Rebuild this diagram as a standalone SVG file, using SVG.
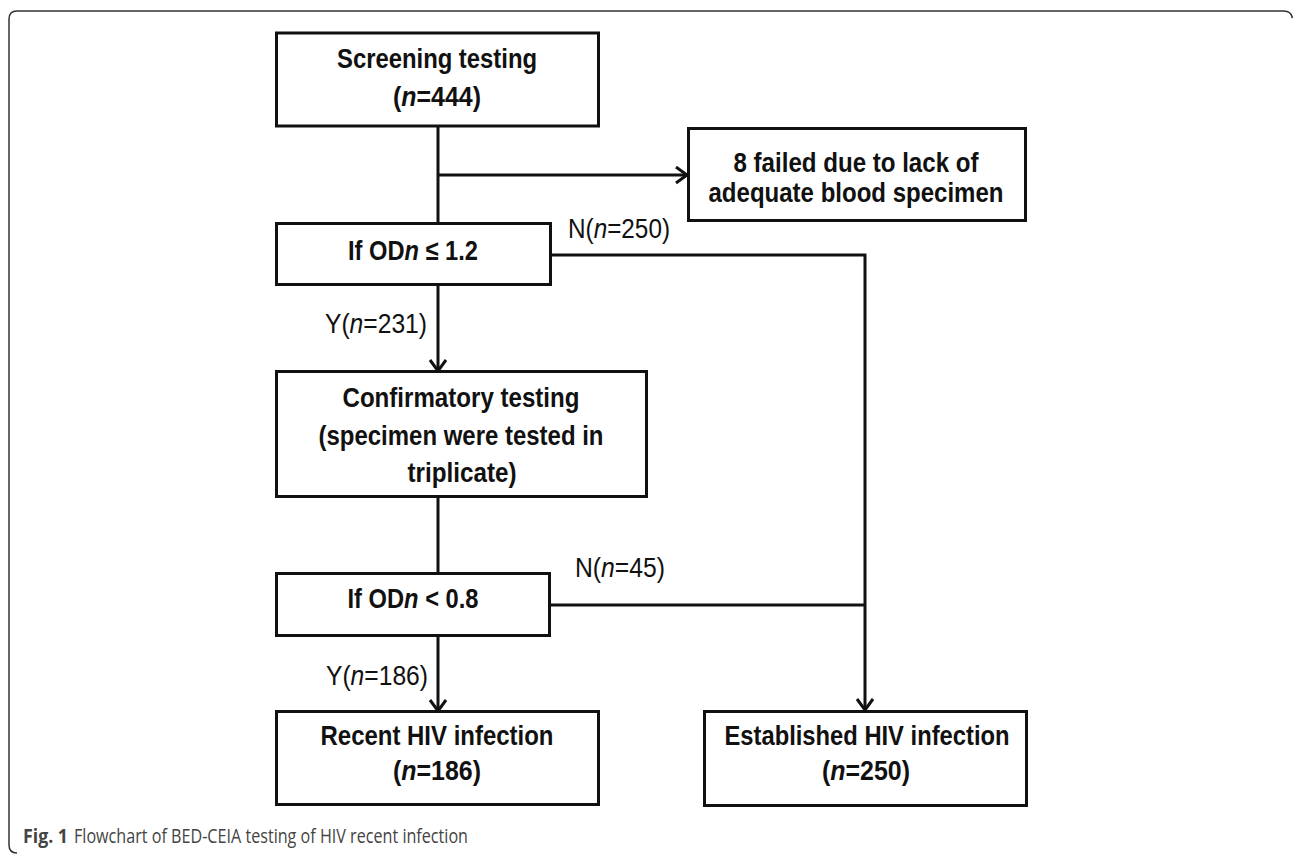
<svg xmlns="http://www.w3.org/2000/svg" width="1293" height="854" viewBox="0 0 1293 854">
<style>
.box{fill:#fff;stroke:#111;stroke-width:3}
.t{font-family:"Liberation Sans",Arial,sans-serif;font-size:28px;font-weight:bold;fill:#111;text-anchor:middle}
.l{font-family:"Liberation Sans",Arial,sans-serif;font-size:28px;fill:#111}
.c{fill:none;stroke:#111;stroke-width:3}
.i{font-style:italic}
.cap{font-family:"Open Sans","Noto Sans",sans-serif;font-size:20px;fill:#444}
</style>
<defs>
<marker id="arr" markerUnits="userSpaceOnUse" markerWidth="16" markerHeight="20" refX="13" refY="9" orient="auto">
<path d="M2,1 L13,9 L2,17" fill="none" stroke="#111" stroke-width="3"/>
</marker>
</defs>
<path d="M17,853 Q9,853 9,845 V19 Q9,11 17,11 H1284 Q1291,11 1292.5,18" fill="none" stroke="#333" stroke-width="1.5"/>
<g id="connectors">
<path class="c" d="M438,127 V223"/>
<path class="c" d="M438,175 H687" marker-end="url(#arr)"/>
<path class="c" d="M438,285 V371" marker-end="url(#arr)"/>
<path class="c" d="M551,255 H865 V710" marker-end="url(#arr)"/>
<path class="c" d="M438,497 V573"/>
<path class="c" d="M550,605 H865"/>
<path class="c" d="M438,636 V711" marker-end="url(#arr)"/>
</g>
<g id="labels">
<text class="l" x="568" y="238" textLength="102" lengthAdjust="spacingAndGlyphs">N(<tspan class="i">n</tspan>=250)</text>
<text class="l" x="325" y="333" textLength="102" lengthAdjust="spacingAndGlyphs">Y(<tspan class="i">n</tspan>=231)</text>
<text class="l" x="575" y="577" textLength="90" lengthAdjust="spacingAndGlyphs">N(<tspan class="i">n</tspan>=45)</text>
<text class="l" x="326" y="685" textLength="102" lengthAdjust="spacingAndGlyphs">Y(<tspan class="i">n</tspan>=186)</text>
</g>
<g id="screening">
<rect class="box" x="276.5" y="33" width="322" height="93"/>
<text class="t" x="437" y="68" textLength="200" lengthAdjust="spacingAndGlyphs">Screening testing</text>
<text class="t" x="437" y="106" textLength="88" lengthAdjust="spacingAndGlyphs">(<tspan class="i">n</tspan>=444)</text>
</g>
<g id="failed">
<rect class="box" x="688.5" y="128.5" width="337" height="92"/>
<text class="t" x="856" y="172" textLength="245" lengthAdjust="spacingAndGlyphs">8 failed due to lack of</text>
<text class="t" x="856" y="202" textLength="295" lengthAdjust="spacingAndGlyphs">adequate blood specimen</text>
</g>
<g id="if1">
<rect class="box" x="276.5" y="223.5" width="274" height="61"/>
<text class="t" x="413" y="260" textLength="130" lengthAdjust="spacingAndGlyphs">If OD<tspan class="i">n</tspan> ≤ 1.2</text>
</g>
<g id="confirm">
<rect class="box" x="276.5" y="371.5" width="370" height="125"/>
<text class="t" x="461" y="407" textLength="237" lengthAdjust="spacingAndGlyphs">Confirmatory testing</text>
<text class="t" x="461" y="445" textLength="285" lengthAdjust="spacingAndGlyphs">(specimen were tested in</text>
<text class="t" x="462" y="482" textLength="109" lengthAdjust="spacingAndGlyphs">triplicate)</text>
</g>
<g id="if2">
<rect class="box" x="276.5" y="573.5" width="273" height="62"/>
<text class="t" x="413" y="608" textLength="131" lengthAdjust="spacingAndGlyphs">If OD<tspan class="i">n</tspan> &lt; 0.8</text>
</g>
<g id="recent">
<rect class="box" x="276.5" y="711.5" width="322" height="93"/>
<text class="t" x="437" y="745" textLength="233" lengthAdjust="spacingAndGlyphs">Recent HIV infection</text>
<text class="t" x="437" y="780" textLength="88" lengthAdjust="spacingAndGlyphs">(<tspan class="i">n</tspan>=186)</text>
</g>
<g id="established">
<rect class="box" x="704.5" y="711.5" width="322" height="94"/>
<text class="t" x="867" y="745" textLength="285" lengthAdjust="spacingAndGlyphs">Established HIV infection</text>
<text class="t" x="866" y="780" textLength="88" lengthAdjust="spacingAndGlyphs">(<tspan class="i">n</tspan>=250)</text>
</g>
<g id="caption">
<text class="cap" x="23" y="843" font-weight="bold" fill="#333" textLength="45" lengthAdjust="spacingAndGlyphs">Fig. 1</text>
<text class="cap" x="74" y="843" textLength="394" lengthAdjust="spacingAndGlyphs">Flowchart of BED-CEIA testing of HIV recent infection</text>
</g>
</svg>
